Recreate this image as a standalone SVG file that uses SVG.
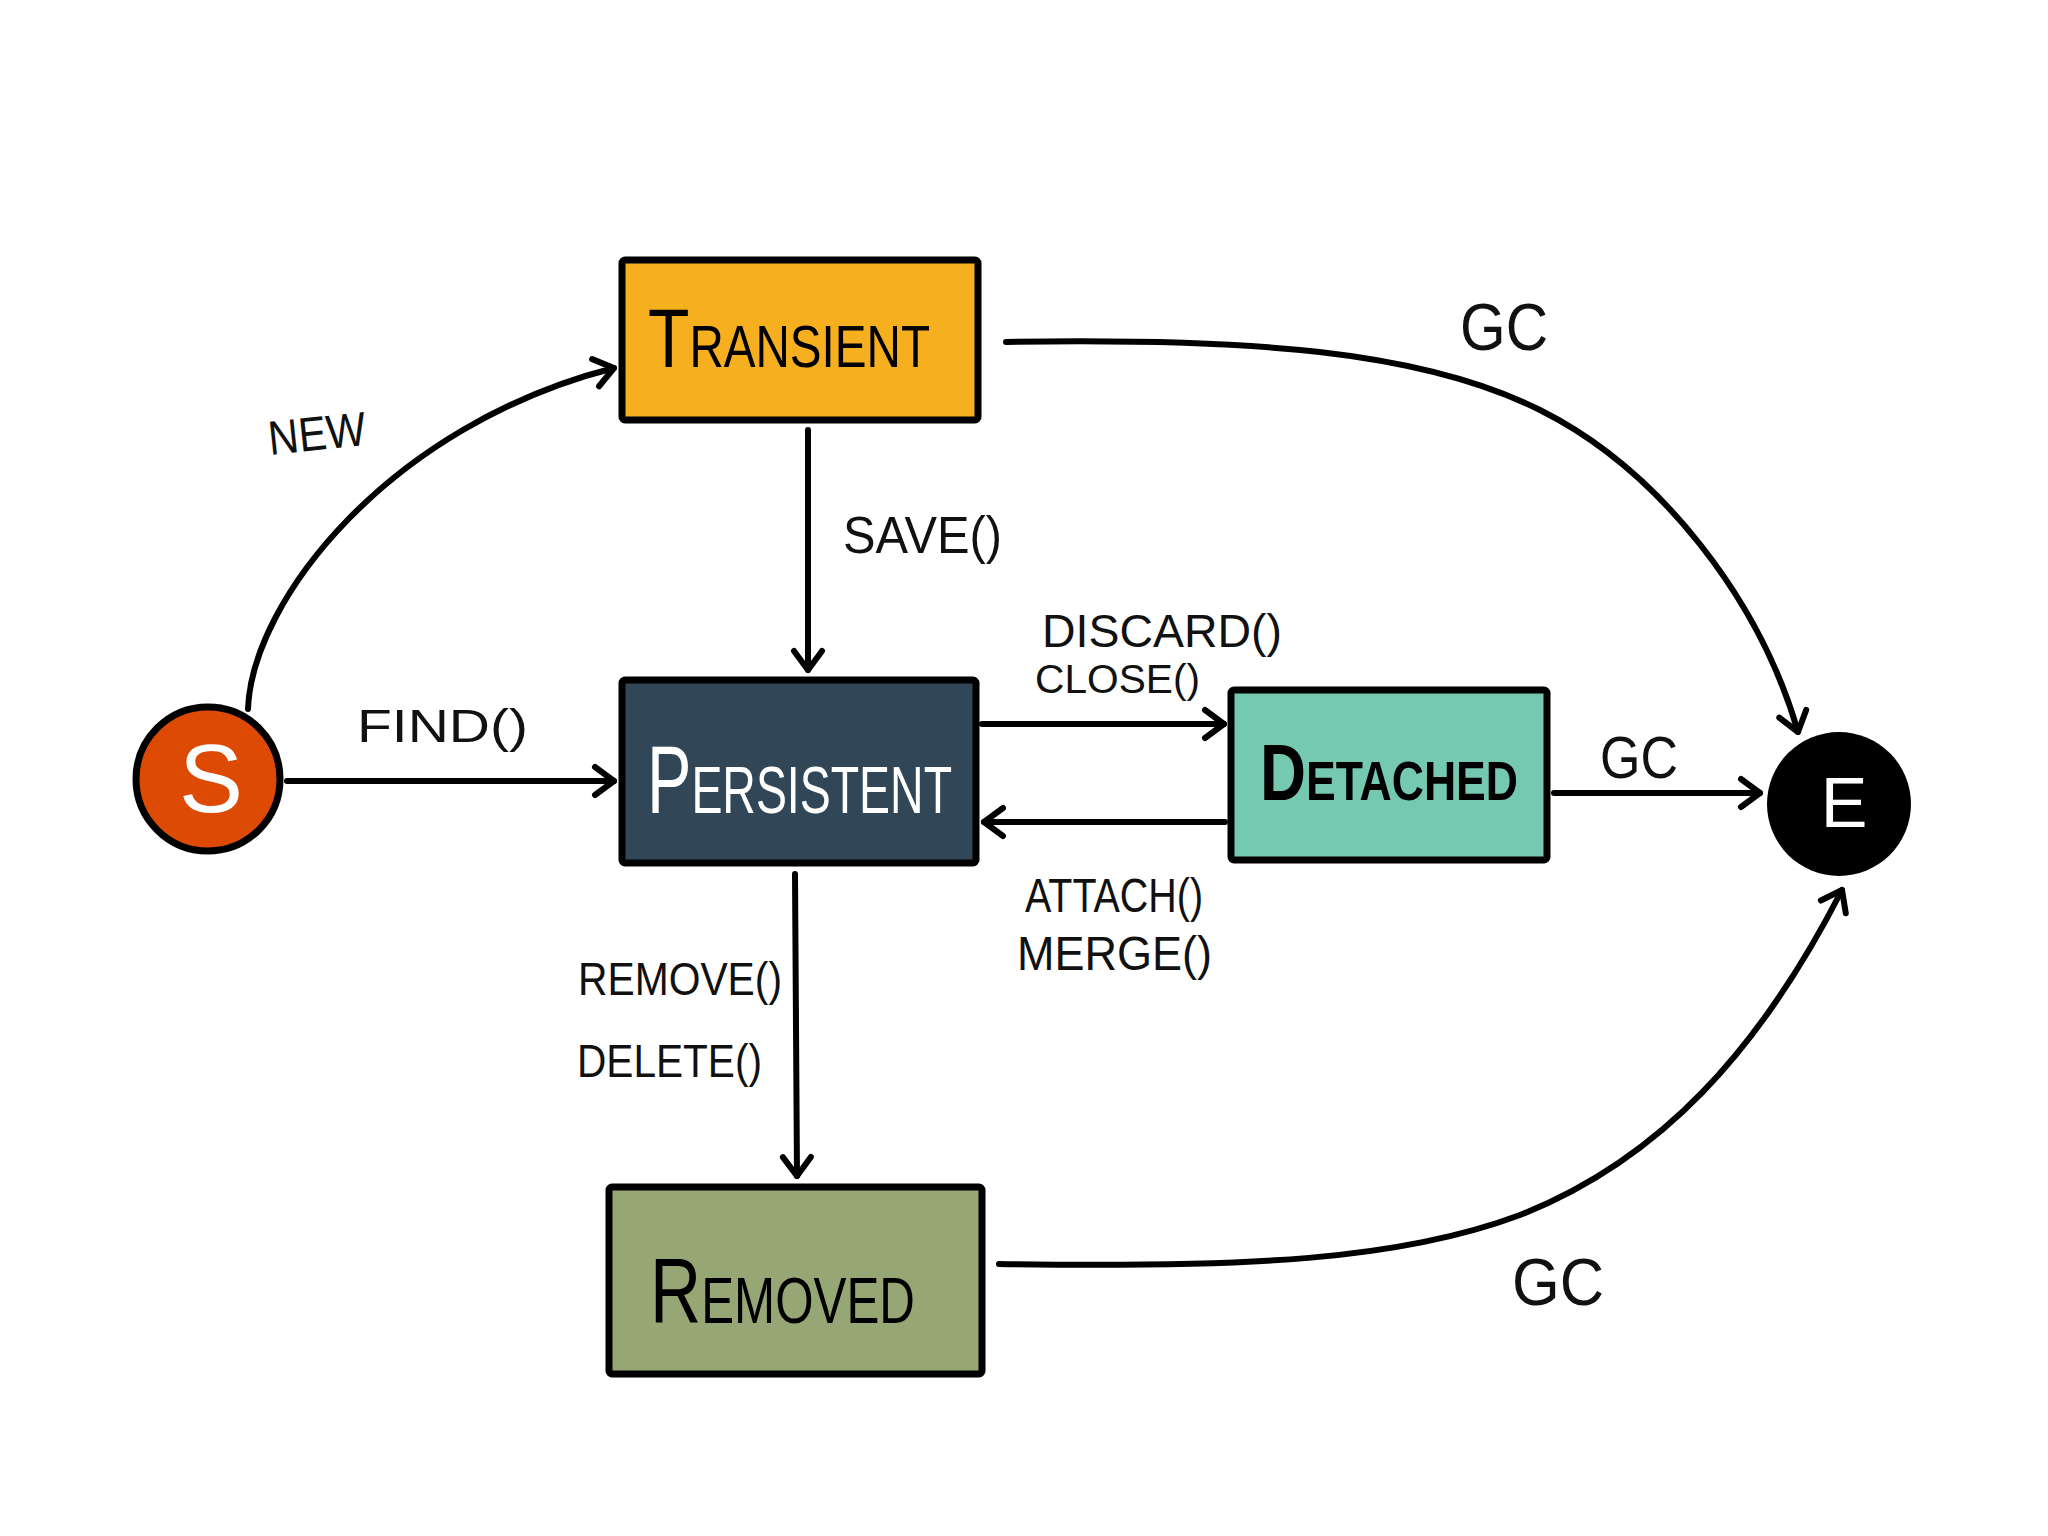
<svg xmlns="http://www.w3.org/2000/svg" width="2048" height="1536" viewBox="0 0 2048 1536">
<defs>
<style>
.box{stroke:#000;stroke-width:7;stroke-linejoin:round}
.title{font-family:"Liberation Sans",Arial,sans-serif;font-variant:small-caps}
.lbl{font-family:"Liberation Sans",Arial,sans-serif;fill:#111}
.edge{fill:none;stroke:#000;stroke-width:6;stroke-linecap:round;marker-end:url(#arr)}
</style>
<marker id="arr" viewBox="-24 -20 30 40" markerWidth="30" markerHeight="40" refX="0" refY="0" orient="auto" markerUnits="userSpaceOnUse">
<path d="M-19,-14 L0,0 L-19,14" fill="none" stroke="#000" stroke-width="6" stroke-linecap="round" stroke-linejoin="round"/>
</marker>
</defs>
<rect width="2048" height="1536" fill="#fff"/>
<g id="connectors">
<path class="edge" d="M248,709 C252,600 390,425 614,368"/>
<path class="edge" d="M287,781 L614,781"/>
<path class="edge" d="M808,430 L808,670"/>
<path class="edge" d="M982,724 L1224,724"/>
<path class="edge" d="M1225,822 L984,822"/>
<path class="edge" d="M795,874 L797,1176"/>
<path class="edge" d="M1554,793 L1760,793"/>
<path class="edge" d="M1006,342 C1250,338 1420,350 1540,410 C1660,470 1760,600 1798,732"/>
<path class="edge" d="M999,1264 C1250,1268 1400,1260 1520,1215 C1660,1160 1760,1050 1842,890"/>
<text class="lbl" x="270" y="455" font-size="48" textLength="98" lengthAdjust="spacingAndGlyphs" transform="rotate(-6 270 455)">NEW</text>
<text class="lbl" x="357" y="742" font-size="46" textLength="171" lengthAdjust="spacingAndGlyphs">FIND()</text>
<text class="lbl" x="843" y="553" font-size="52" textLength="159" lengthAdjust="spacingAndGlyphs">SAVE()</text>
<text class="lbl" x="1042" y="647" font-size="46" textLength="240" lengthAdjust="spacingAndGlyphs">DISCARD()</text>
<text class="lbl" x="1035" y="693" font-size="40" textLength="165" lengthAdjust="spacingAndGlyphs">CLOSE()</text>
<text class="lbl" x="1025" y="912" font-size="48" textLength="178" lengthAdjust="spacingAndGlyphs">ATTACH()</text>
<text class="lbl" x="1017" y="970" font-size="48" textLength="195" lengthAdjust="spacingAndGlyphs">MERGE()</text>
<text class="lbl" x="578" y="995" font-size="46" textLength="204" lengthAdjust="spacingAndGlyphs">REMOVE()</text>
<text class="lbl" x="577" y="1077" font-size="46" textLength="185" lengthAdjust="spacingAndGlyphs">DELETE()</text>
<text class="lbl" x="1460" y="350" font-size="66" textLength="88" lengthAdjust="spacingAndGlyphs">GC</text>
<text class="lbl" x="1600" y="778" font-size="60" textLength="78" lengthAdjust="spacingAndGlyphs">GC</text>
<text class="lbl" x="1512" y="1305" font-size="66" textLength="92" lengthAdjust="spacingAndGlyphs">GC</text>
</g>
<g id="start">
<circle cx="208" cy="779" r="72" fill="#DC4A04" stroke="#000" stroke-width="7"/>
<text x="211" y="812" font-size="96" fill="#fff" text-anchor="middle" font-family="Liberation Sans,Arial,sans-serif">S</text>
</g>
<g id="end">
<circle cx="1839" cy="804" r="72" fill="#000"/>
<text x="1844" y="827" font-size="70" fill="#fff" text-anchor="middle" font-family="Liberation Sans,Arial,sans-serif">E</text>
</g>
<g id="transient">
<rect class="box" x="622" y="260" width="356" height="160" rx="3" fill="#F5AF1F"/>
<text class="title" x="648" y="367" font-size="84" textLength="282" lengthAdjust="spacingAndGlyphs" fill="#000">Transient</text>
</g>
<g id="persistent">
<rect class="box" x="622" y="680" width="354" height="183" rx="3" fill="#314757"/>
<text class="title" x="647" y="813" font-size="96" textLength="305" lengthAdjust="spacingAndGlyphs" fill="#fff">Persistent</text>
</g>
<g id="detached">
<rect class="box" x="1231" y="690" width="316" height="170" rx="3" fill="#74C9B0"/>
<text class="title" x="1260" y="800" font-size="80" font-weight="bold" textLength="258" lengthAdjust="spacingAndGlyphs" fill="#000">Detached</text>
</g>
<g id="removed">
<rect class="box" x="609" y="1187" width="373" height="187" rx="3" fill="#96A674"/>
<text class="title" x="650" y="1323" font-size="92" textLength="265" lengthAdjust="spacingAndGlyphs" fill="#000">Removed</text>
</g>
</svg>
